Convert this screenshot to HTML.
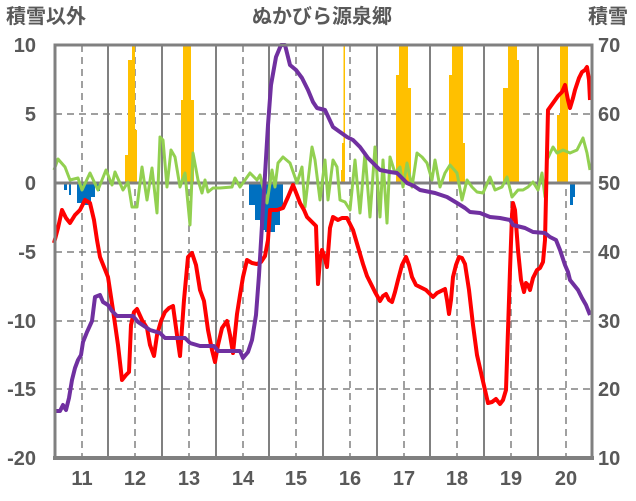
<!DOCTYPE html>
<html><head><meta charset="utf-8"><style>
html,body{margin:0;padding:0;background:#fff;}
svg{display:block;}
text{font-family:"Liberation Sans","Noto Sans CJK JP",sans-serif;fill:#595959;font-size:20px;font-weight:bold;}
</style></head><body>
<svg width="636" height="501" viewBox="0 0 636 501">
<rect width="636" height="501" fill="#fff"/>
<g stroke="#808080" stroke-width="1.5" stroke-dasharray="7,5">
<line x1="55" y1="114" x2="592" y2="114"/><line x1="55" y1="252" x2="592" y2="252"/>
<line x1="55" y1="321" x2="592" y2="321"/><line x1="55" y1="389" x2="592" y2="389"/>
<line x1="82" y1="45" x2="82" y2="458"/><line x1="135" y1="45" x2="135" y2="458"/><line x1="189" y1="45" x2="189" y2="458"/><line x1="243" y1="45" x2="243" y2="458"/><line x1="296" y1="45" x2="296" y2="458"/><line x1="350" y1="45" x2="350" y2="458"/><line x1="404" y1="45" x2="404" y2="458"/><line x1="457" y1="45" x2="457" y2="458"/><line x1="511" y1="45" x2="511" y2="458"/><line x1="566" y1="45" x2="566" y2="458"/>
</g>
<g stroke="#808080" stroke-width="2">
<line x1="108" y1="45" x2="108" y2="458"/><line x1="162" y1="45" x2="162" y2="458"/><line x1="216" y1="45" x2="216" y2="458"/><line x1="269" y1="45" x2="269" y2="458"/><line x1="323" y1="45" x2="323" y2="458"/><line x1="377" y1="45" x2="377" y2="458"/><line x1="430" y1="45" x2="430" y2="458"/><line x1="484" y1="45" x2="484" y2="458"/><line x1="538" y1="45" x2="538" y2="458"/>
</g>
<g fill="#FFC000">
<rect x="125" y="155" width="3" height="28"/><rect x="128" y="60" width="4" height="123"/><rect x="132" y="45" width="3" height="138"/><rect x="135" y="130" width="2" height="53"/>
<rect x="181" y="100" width="2" height="83"/><rect x="183" y="45" width="8" height="138"/><rect x="191" y="100" width="3" height="83"/>
<rect x="341" y="170" width="4" height="13"/><rect x="342" y="143" width="3" height="40"/><rect x="343.5" y="45" width="1.5" height="138"/>
<rect x="396" y="75" width="3" height="108"/><rect x="399" y="45" width="9" height="138"/><rect x="408" y="88" width="3" height="95"/>
<rect x="449" y="75" width="3" height="108"/><rect x="452" y="45" width="11" height="138"/><rect x="463" y="143" width="2" height="40"/>
<rect x="503" y="88" width="5" height="95"/><rect x="508" y="45" width="9" height="138"/><rect x="517" y="60" width="2" height="123"/>
<rect x="557" y="115" width="3" height="68"/><rect x="560" y="45" width="8" height="138"/>
</g>
<g fill="#0070C0">
<rect x="64" y="183" width="3" height="7"/><rect x="69" y="183" width="2" height="12"/><rect x="77" y="183" width="4" height="20"/><rect x="81" y="183" width="10" height="22"/><rect x="91" y="183" width="4" height="14"/><rect x="97" y="183" width="3" height="8"/>
<rect x="249" y="183" width="6" height="22"/><rect x="255" y="183" width="5" height="37"/><rect x="260" y="183" width="5" height="47"/><rect x="265" y="183" width="10" height="49"/><rect x="275" y="183" width="5" height="42"/><rect x="280" y="183" width="3" height="27"/>
<rect x="570" y="183" width="3" height="22"/><rect x="573" y="183" width="2" height="14"/>
</g>
<line x1="55" y1="183" x2="592" y2="183" stroke="#808080" stroke-width="3"/>
<polyline fill="none" stroke="#92D050" stroke-width="3" stroke-linejoin="round" points="54,170 58,159 65,167 70,180 78,178 82,190 90,173 98,190 106,170 112,185 115,172 123,190 128,182 132,207 137,207 142,167 147,200 152,168 157,213 160,137 163,140 167,187 171,150 175,157 180,187 185,173 190,225 193,153 198,180 202,193 205,180 208,192 213,188 220,188 232,187 235,178 240,187 250,173 257,180 260,175 267,203 272,170 275,187 278,163 283,157 290,163 297,183 302,167 305,207 312,147 315,160 320,200 325,160 328,200 333,160 337,167 340,200 345,202 350,210 355,160 360,213 365,153 370,217 375,147 380,217 383,160 387,223 390,157 395,173 400,167 403,187 407,163 412,187 417,153 422,157 427,163 432,180 435,160 440,187 445,173 450,165 457,173 462,200 467,180 472,187 477,192 483,193 490,177 495,190 502,187 507,177 512,197 518,190 523,190 528,187 533,182 538,190 542,173 545,197 547,160 553,147 557,153 563,150 570,153 577,150 583,138 587,153 590,170"/>
<polyline fill="none" stroke="#FF0000" stroke-width="4" stroke-linejoin="round" points="54,243 58,228 62,210 66,218 70,223 75,215 80,210 85,200 90,203 94,220 97,240 100,257 104,267 108,277 113,310 118,345 122,380 126,375 129,372 131,325 134,312 137,309 142,320 147,328 150,345 154,356 157,335 161,321 165,312 169,308 173,306 177,335 180,356 184,300 188,257 192,253 196,265 200,290 204,301 208,330 212,350 215,362 218,345 222,328 227,321 230,335 233,353 237,314 240,295 243,277 247,260 252,263 257,264 261,262 265,256 268,240 270,210 277,210 283,208 288,197 293,185 297,195 300,203 304,210 307,217 312,222 316,226 318,284 320,260 322,250 324,255 327,267 330,228 333,217 338,220 342,218 347,218 353,230 358,247 363,264 367,276 371,284 375,292 380,301 383,296 386,294 389,300 392,302 395,292 398,280 402,265 406,257 409,265 412,277 416,285 420,287 426,290 433,297 437,293 441,291 445,289 447,300 449,314 451,300 453,277 456,265 459,257 462,258 465,264 469,290 473,325 477,355 482,377 488,403 492,402 496,399 500,404 503,400 506,390 508,330 510,270 512,215 513,203 515,210 518,250 521,280 524,292 526,283 528,285 530,290 533,278 537,270 540,268 543,262 545,240 548,110 553,103 558,96 562,92 565,85 568,100 570,108 573,98 575,90 579,78 582,72 585,70 587,67 589,80 590,100"/>
<polyline fill="none" stroke="#7030A0" stroke-width="4" stroke-linejoin="round" points="54,411 60,411 63,405 66,410 69,398 72,380 75,368 78,360 81,355 83,342 87,332 92,321 95,297 100,295 103,302 108,305 112,311 117,316 133,316 138,322 144,326 150,330 160,333 165,338 185,338 190,343 200,346 214,346 218,351 240,351 243,358 248,352 252,340 256,315 259,275 262,225 265,175 268,125 271,85 276,57 281,45 285,45 290,65 296,70 302,78 308,90 313,102 317,108 325,110 333,127 340,132 347,137 353,140 360,147 368,158 375,165 380,170 390,172 397,173 402,178 407,183 414,186 420,190 435,193 447,197 452,200 457,203 465,208 470,212 480,213 490,217 500,218 510,220 513,225 525,228 533,232 545,233 550,237 556,240 560,250 565,265 568,272 570,280 574,285 578,290 582,298 586,305 590,315"/>
<rect x="55" y="45" width="537" height="413" fill="none" stroke="#808080" stroke-width="3"/>
<line x1="53" y1="458" x2="594" y2="458" stroke="#808080" stroke-width="4"/>
<text x="6" y="23">積雪以外</text>
<text x="322" y="23" text-anchor="middle">ぬかびら源泉郷</text>
<text x="588" y="23">積雪</text>
<g text-anchor="end">
<text x="36" y="52">10</text><text x="36" y="121">5</text><text x="36" y="190">0</text><text x="36" y="259">-5</text><text x="36" y="328">-10</text><text x="36" y="396">-15</text><text x="36" y="465">-20</text>
</g>
<g>
<text x="598" y="52">70</text><text x="598" y="121">60</text><text x="598" y="190">50</text><text x="598" y="259">40</text><text x="598" y="328">30</text><text x="598" y="396">20</text><text x="598" y="465">10</text>
</g>
<g text-anchor="middle">
<text x="82" y="485">11</text><text x="135" y="485">12</text><text x="189" y="485">13</text><text x="243" y="485">14</text><text x="296" y="485">15</text><text x="350" y="485">16</text><text x="404" y="485">17</text><text x="457" y="485">18</text><text x="511" y="485">19</text><text x="566" y="485">20</text>
</g>
</svg>
</body></html>
